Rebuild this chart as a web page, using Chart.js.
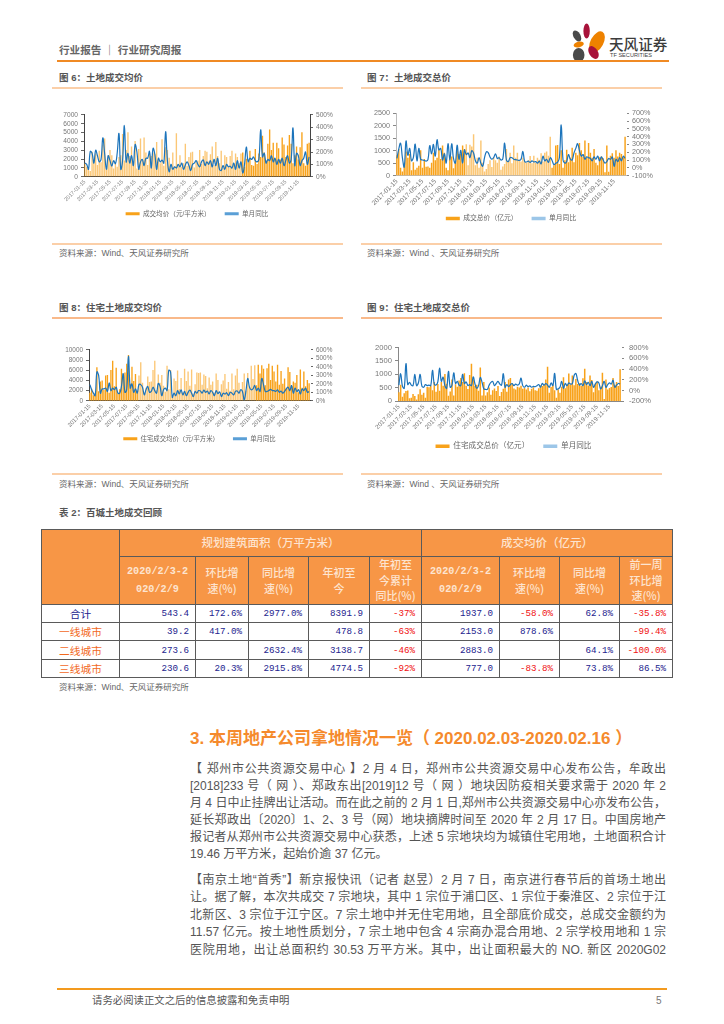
<!DOCTYPE html>
<html lang="zh">
<head>
<meta charset="utf-8">
<title>行业研究周报</title>
<script src="https://cdn.jsdelivr.net/npm/chart.js@4.2.1/dist/chart.umd.min.js"></script>
<style>
  html, body { margin: 0; padding: 0; background: #fff; }
  body { position: relative; width: 724px; height: 1024px; overflow: hidden; filter: blur(0.3px);
         font-family: 'Liberation Sans', 'Noto Sans CJK SC', sans-serif; color: #444; }
  .abs { position: absolute; white-space: nowrap; }
  .rule { position: absolute; height: 2px; }
  canvas { position: absolute; }
  .cap { position: absolute; font-size: 9.5px; font-weight: 700; color: #555; line-height: 12px; white-space: nowrap; }
  .src { position: absolute; font-size: 8.5px; color: #666; line-height: 12px; white-space: nowrap; }
  .ln { position: absolute; left: 190px; width: 476px; font-size: 12px; line-height: 16px; color: #555; }
  .just { text-align: justify; text-align-last: justify; }
  table { position: absolute; left: 41px; top: 529px; border-collapse: collapse; table-layout: fixed; width: 631px; }
  td { border: 1px solid #5a5a5a; padding: 0 6px 0 0; font-family: 'Liberation Mono', 'Noto Sans CJK SC', monospace; font-size: 9.2px; text-align: right; color: #23238e; overflow: hidden; white-space: nowrap; }
  td.h { background: #f79646; color: #fde4d0; text-align: center; padding: 0; font-family: 'Noto Sans CJK SC'; font-weight: 500; font-size: 11px; line-height: 15.5px; }
  td.hd { font-family: 'Liberation Mono'; font-weight: 700; font-size: 10.2px; line-height: 18px; }
  td.h2 { font-size: 11.5px; }
  td.name { text-align: center; padding: 0; font-family: 'Noto Sans CJK SC'; font-size: 10.7px; }
  td.red { color: #f01010; }
</style>
</head>
<body>

<div class="abs" style="left:59px;top:44px;font-size:10.6px;font-weight:700;color:#666;line-height:13px">行业报告 ｜ 行业研究周报</div>
<svg class="abs" style="left:565px;top:20px" width="45" height="45" viewBox="565 20 45 45">
  <ellipse cx="586.6" cy="31" rx="3.2" ry="7.5" fill="#a8123a"/>
  <ellipse cx="577" cy="36" rx="3.5" ry="6" fill="#4a4a4a" transform="rotate(-30 577 36)"/>
  <ellipse cx="597" cy="42" rx="6.5" ry="11.5" fill="#ee8200" transform="rotate(28 597 42)"/>
  <ellipse cx="578.7" cy="44.5" rx="5.2" ry="2.8" fill="#ee8200" transform="rotate(-15 578.7 44.5)"/>
  <ellipse cx="578.7" cy="55" rx="5.8" ry="7" fill="#4a4a4a"/>
  <ellipse cx="593.5" cy="52.5" rx="4.4" ry="7" fill="#a8123a" transform="rotate(-32 593.5 52.5)"/>
</svg>
<div class="abs" style="left:609px;top:35px;font-size:14.6px;font-weight:500;color:#3c3c3c;line-height:18px;font-family:'Noto Sans CJK SC'">天风证券</div>
<div class="abs" style="left:610px;top:52px;font-size:5.6px;color:#444;line-height:7px">TF SECURITIES</div>
<div class="rule" style="left:57px;top:60px;width:612px;background:#f08a24"></div>

<div class="cap" style="left:59px;top:72px">图 6：土地成交均价</div>
<div class="rule" style="left:52px;top:87px;width:291px;background:#fbcfa8"></div>
<div class="rule" style="left:52px;top:243px;width:291px;background:#fbcfa8"></div>
<div class="src" style="left:59px;top:247px">资料来源：Wind、天风证券研究所</div>

<div class="cap" style="left:367px;top:72px">图 7：土地成交总价</div>
<div class="rule" style="left:361px;top:87px;width:301px;background:#fbcfa8"></div>
<div class="rule" style="left:361px;top:243px;width:301px;background:#fbcfa8"></div>
<div class="src" style="left:367px;top:247px">资料来源：Wind 、天风证券研究所</div>

<div class="cap" style="left:59px;top:302px">图 8：住宅土地成交均价</div>
<div class="rule" style="left:52px;top:317px;width:291px;background:#f9b98a"></div>
<div class="rule" style="left:52px;top:473px;width:291px;background:#fbcfa8"></div>
<div class="src" style="left:59px;top:478px">资料来源：Wind、天风证券研究所</div>

<div class="cap" style="left:367px;top:302px">图 9：住宅土地成交总价</div>
<div class="rule" style="left:361px;top:317px;width:301px;background:#f9b98a"></div>
<div class="rule" style="left:361px;top:473px;width:301px;background:#fbcfa8"></div>
<div class="src" style="left:367px;top:478px">资料来源：Wind 、天风证券研究所</div>

<canvas id="c6"></canvas>
<canvas id="c7"></canvas>
<canvas id="c8"></canvas>
<canvas id="c9"></canvas>

<div class="cap" style="left:59px;top:507px">表 2：百城土地成交回顾</div>
<table id="tbl"></table>
<div class="src" style="left:59px;top:681px">资料来源：Wind、天风证券研究所</div>

<div class="abs" style="left:190px;top:729px;font-size:17px;font-weight:700;color:#f58a2c;line-height:20px">3. 本周地产公司拿地情况一览（ 2020.02.03-2020.02.16 ）</div>

<div class="ln just" style="top:761px">【 郑州市公共资源交易中心 】2 月 4 日，郑州市公共资源交易中心发布公告，牟政出</div>
<div class="ln just" style="top:778px">[2018]233 号（ 网 ）、郑政东出[2019]12 号（ 网 ）地块因防疫相关要求需于 2020 年 2</div>
<div class="ln just" style="top:795px">月 4 日中止挂牌出让活动。而在此之前的 2 月 1 日,郑州市公共资源交易中心亦发布公告，</div>
<div class="ln just" style="top:812px">延长郑政出〔2020〕1、2、3 号（网）地块摘牌时间至 2020 年 2 月 17 日。中国房地产</div>
<div class="ln just" style="top:829px">报记者从郑州市公共资源交易中心获悉，上述 5 宗地块均为城镇住宅用地，土地面积合计</div>
<div class="ln" style="top:846px">19.46 万平方米，起始价逾 37 亿元。</div>
<div class="ln just" style="top:872px">【南京土地“首秀”】新京报快讯（记者 赵昱）2 月 7 日，南京进行春节后的首场土地出</div>
<div class="ln just" style="top:889px">让。据了解，本次共成交 7 宗地块，其中 1 宗位于浦口区、1 宗位于秦淮区、2 宗位于江</div>
<div class="ln just" style="top:907px">北新区、3 宗位于江宁区。7 宗土地中并无住宅用地，且全部底价成交，总成交金额约为</div>
<div class="ln just" style="top:924px">11.57 亿元。按土地性质划分，7 宗土地中包含 4 宗商办混合用地、2 宗学校用地和 1 宗</div>
<div class="ln just" style="top:942px">医院用地，出让总面积约 30.53 万平方米。其中，出让面积最大的 NO. 新区 2020G02</div>

<div class="rule" style="left:57px;top:988px;width:610px;background:#f39a1e"></div>
<div class="abs" style="left:92px;top:994px;font-size:10.4px;color:#555;line-height:13px">请务必阅读正文之后的信息披露和免责申明</div>
<div class="abs" style="left:656px;top:994px;font-size:10px;color:#777;line-height:13px">5</div>

<script>
// x axis labels, one every two months
const tickLabels = ['2017-01-15','2017-03-15','2017-05-15','2017-07-15','2017-09-15','2017-11-15',
  '2018-01-15','2018-03-15','2018-05-15','2018-07-15','2018-09-15','2018-11-15',
  '2019-01-15','2019-03-15','2019-05-15','2019-07-15','2019-09-15','2019-11-15'];

// fig 6 land average price
const price6 = [
  1500,1100,900,600,2800,1900,2600, 1300,2900,1600,3600,4300,900,2400,
  3000,2400,900,1500,1100,2200,2400, 4800,1800,3000,5000,2300,3400,1500,
  4000,900,3100,4300,1800,4400,2700, 1300,2600,2300,2700,2500,3900,1900,
  1500,4200,1200,3300,3000,2100,1000, 2700,1100,4900,1400,2400,1100,1500,
  3700,1200,2200,2700,2800,1000,1600, 1800,3000,1400,2300,2900,2800,1700,
  2500,3400,1300,3900,2300,1500,2900, 1000,2400,2200,1100,2300,2900,1300,
  2600,2200,1500,2600,2700,1100,2000, 1600,2900,1300,1200,3100,1400,2600,
  2200,4600,2700,1800,3700,5300,3000, 3800,2000,3800,3200,1900,4400,3600,
  2200,3500,4700,3700,1500,2400,3400, 1900,3300,5000,1500,1200,3700,3800];
const yoy6 = [
  110,100,60,205,190,110,215, 170,120,140,315,190,60,170,
  130,85,130,105,190,350,60, 130,415,120,190,110,170,90,
  260,200,60,120,140,90,150, 150,205,70,230,180,60,150,
  120,135,110,365,130,40,100, 60,80,70,100,80,110,60,
  95,120,90,50,100,110,130, 100,80,120,135,90,120,100,
  130,80,140,90,150,60,50, 90,60,100,80,85,70,110,
  60,130,70,120,30,100,240, 120,150,140,160,130,120,140,
  380,160,190,110,140,130,170, 120,150,100,140,110,150,90,
  130,170,110,140,395,90,190, 170,90,130,150,200,100,160];

// fig 7 land total price
const total7 = [
  800,1050,300,150,500,950,700, 850,200,520,220,300,380,1000,
  300,650,340,350,300,500,900, 600,700,1050,650,1200,900,300,
  200,800,750,280,500,1000,850, 850,1200,1050,1250,400,1230,1150,
  1650,400,700,300,1400,500,150, 250,450,600,330,700,600,500,
  750,220,350,450,1050,550,900, 480,1200,700,900,600,550,700,
  550,500,600,770,480,780,500, 700,620,880,550,900,950,780,
  1550,300,400,1200,1220,450,1000, 300,600,1020,520,700,1100,520,
  900,800,1300,1000,750,1400,700, 1300,900,700,1050,500,400,720,
  750,680,120,1200,140,780,880, 700,1000,750,900,850,720,1550];
const yoy7 = [
  120,240,317,130,10,345,160, 250,90,130,305,90,250,110,
  100,95,85,105,285,180,300, 150,360,230,250,100,180,60,
  310,100,310,120,60,290,110, 225,60,230,170,190,130,220,
  190,90,60,130,60,20,130, 205,195,140,110,130,180,120,
  130,100,115,317,100,80,130, 130,110,105,100,95,110,210,
  80,75,85,70,90,75,80, 60,85,50,150,90,110,70,
  130,95,40,60,70,130,550, 100,60,80,170,110,100,190,
  250,310,220,150,170,110,140, 130,120,90,140,110,150,90,
  140,100,60,80,120,110,140, 20,110,80,130,90,150,120];

// fig 8 residential land average price
const price8 = [
  1500,2300,1000,1400,6500,1800,3700, 3900,2100,4900,5000,1500,6000,7800,
  2800,6400,1400,2200,6200,4800,5500, 7200,8900,3300,6600,3800,5200,1900,
  4900,7500,3500,1500,2500,4700,3600, 3700,6000,7800,2000,5100,3500,5000,
  2900,1700,6800,2200,6000,1000,4300, 3800,5900,2200,4400,1500,6200,3800,
  5700,2900,6100,1300,3200,5500,5400, 5500,3100,5100,4800,2400,4500,3100,
  3700,1500,5300,4000,1200,3200,3900, 5200,2300,3600,1900,5300,2200,4900,
  6200,3500,1800,3600,5300,1900,5400, 2500,6800,4200,6900,3000,7000,5300,
  6900,6200,3000,6300,7200,4000,6800, 5700,3700,7000,3100,5800,3300,4300,
  2500,6500,5600,2800,3700,3500,5000, 1600,6100,2500,5700,2800,4000,3400];
const yoy8 = [
  190,130,90,60,340,300,90, 140,140,150,110,210,120,150,
  130,160,90,90,170,320,100, 130,523,150,200,100,140,90,
  195,190,160,70,130,170,100, 110,160,120,90,205,170,60,
  130,150,120,360,340,40,90, 60,120,80,130,70,110,60,
  100,125,90,50,110,90,120, 115,90,125,100,115,80,120,
  100,60,120,85,105,50,90, 80,95,60,100,90,70,110,
  115,90,130,110,10,120,263, 160,130,140,180,120,150,110,
  263,190,110,110,120,135,120, 120,110,130,100,115,90,110,
  140,160,120,180,90,150,110, 130,80,140,120,150,100,110];

// fig 9 residential land total price
const total9 = [
  320,600,150,280,370,390,100, 120,260,180,50,250,430,230,
  300,120,520,510,560,400,700, 340,630,380,700,560,1000,640,
  190,350,800,200,620,530,760, 850,700,1030,560,440,960,1380,
  800,550,600,380,1240,200,700, 200,320,500,230,400,460,370,
  550,180,330,450,700,340,800, 850,650,460,420,530,500,560,
  450,480,420,500,360,450,510, 400,380,470,580,550,620,800,
  1270,300,520,600,400,120,430, 300,530,880,470,620,1020,610,
  950,580,820,630,660,560,840, 1200,700,570,950,780,320,650,
  720,400,530,1050,70,800,420, 480,520,850,600,700,550,1180];
const yoy9 = [
  100,312,80,40,501,110,150, 100,90,300,90,140,300,80,
  60,110,90,100,90,375,120, 100,160,415,170,250,90,40,
  358,60,100,330,130,170,100, 90,300,130,160,90,110,90,
  254,120,40,90,242,150,30, 20,20,100,150,170,90,130,
  170,120,100,312,60,110,70, 110,130,90,120,100,120,230,
  90,60,100,70,85,60,75, 70,90,110,60,130,100,130,
  100,60,140,90,317,20,30, 60,168,40,130,90,140,120,
  130,280,317,190,100,130,90, 180,110,150,90,170,60,120,
  160,140,30,90,170,60,110, 140,120,190,60,100,130,120];

// table 2
const cityNames = ['合计','一线城市','二线城市','三线城市'];
const areaWeek = ['543.4','39.2','273.6','230.6'];
const areaWow = ['172.6%','417.0%','','20.3%'];
const areaYoy = ['2977.0%','','2632.4%','2915.8%'];
const areaYtd = ['8391.9','478.8','3138.7','4774.5'];
const areaYtdYoy = ['-37%','-63%','-46%','-92%'];
const priceWeek = ['1937.0','2153.0','2883.0','777.0'];
const priceWow = ['-58.0%','878.6%','','-83.8%'];
const priceYoy = ['62.8%','','64.1%','73.8%'];
const priceLastWeek = ['-35.8%','-99.4%','-100.0%','86.5%'];

// each label takes a slot of 7 weeks on the category axis
const categories = [];
tickLabels.forEach(t => { categories.push(t); for (let i = 0; i < 6; i++) categories.push(''); });

const FONT = "'Liberation Sans','Noto Sans CJK SC',sans-serif";

function drawChart(id, o) {
  const pad = 6, legendPad = 14, side = 30;
  const canvas = document.getElementById(id);
  const top = o.top - pad;
  const W = o.right - o.left + o.wL + o.wR + 2 * side;
  const H = o.legendY + o.legendSize / 2 + 10 - top;
  canvas.width = W;
  canvas.height = H;
  canvas.style.left = (o.left - o.wL - side) + 'px';
  canvas.style.top = top + 'px';
  const xh = (o.legendY - legendPad - o.legendSize / 2) - o.bottom;
  const tickFont = { family: FONT, size: o.tickSize };
  new Chart(canvas.getContext('2d'), {
    data: {
      labels: categories,
      datasets: [
        { type: 'bar', label: o.barName, data: o.bars, yAxisID: 'y', order: 1, barThickness: o.barWidth,
          // the thin bars wash out over part of the range in the original
          backgroundColor: c => (c.dataIndex >= o.fadeFrom && c.dataIndex < o.fadeTo) ? 'rgba(248,162,26,0.6)' : '#f8a21a' },
        { type: 'line', label: o.lineName, data: o.line, yAxisID: 'y1', order: 0,
          borderColor: '#1c74bb', backgroundColor: o.legendLine, borderWidth: 1.2, pointRadius: 0, tension: 0.4 }
      ]
    },
    options: {
      responsive: false,
      devicePixelRatio: 1,
      animation: false,
      layout: { padding: { top: pad, left: side, right: side, bottom: 0 } },
      plugins: {
        tooltip: { enabled: false },
        legend: {
          position: 'bottom',
          labels: { font: { family: FONT, size: o.legendSize }, color: '#666', boxWidth: 14, boxHeight: o.legendBox, padding: legendPad,
            sort: (a, b) => a.datasetIndex - b.datasetIndex,
            generateLabels: chart => Chart.defaults.plugins.legend.labels.generateLabels(chart).map(item =>
              ({ ...item, lineWidth: 0, fillStyle: item.datasetIndex === 0 ? '#f8a21a' : o.legendLine })) }
        }
      },
      scales: {
        x: {
          // rotated labels run past the short axis box, so no clipping to it
          afterFit: s => { s.height = xh; s._computeLabelArea = () => null; },
          grid: { display: false, drawTicks: false },
          border: { color: o.axisColor },
          ticks: { autoSkip: false, maxRotation: 45, minRotation: 45, padding: 2, font: { family: FONT, size: o.xSize }, color: '#777' }
        },
        y: {
          position: 'left',
          min: 0, max: o.yMax,
          afterFit: s => { s.width = o.wL; },
          grid: { drawOnChartArea: false, tickLength: 3, color: o.tickColor },
          border: { color: o.axisColor },
          ticks: { stepSize: o.yStep, autoSkip: false, padding: 3, font: tickFont, color: '#777', callback: v => String(v) }
        },
        y1: {
          position: 'right',
          min: o.rMin, max: o.rMax,
          afterFit: s => { s.width = o.wR; },
          grid: { drawOnChartArea: false, tickLength: 3, color: o.tickColor },
          border: { color: o.rightAxisColor },
          ticks: { stepSize: o.rStep, autoSkip: false, padding: o.rPad, font: tickFont, color: '#777', callback: v => v + '%' }
        }
      }
    }
  });
}

drawChart('c6', { left: 84, right: 310, top: 114, bottom: 177, legendY: 214, wL: 30, wR: 30, barWidth: 0.7, fadeFrom: 0, fadeTo: 88,
  bars: price6, line: yoy6, barName: '成交均价（元/平方米）', lineName: '单月同比',
  yMax: 7000, yStep: 1000, rMin: 0, rMax: 500, rStep: 100, rPad: 3,
  tickSize: 6.6, xSize: 5.4, legendSize: 6.6, legendBox: 3, axisColor: '#444', rightAxisColor: '#444', tickColor: '#666', legendLine: '#5a9fd6' });

drawChart('c7', { left: 396, right: 626, top: 112, bottom: 176, legendY: 219, wL: 34, wR: 34, barWidth: 0.8, fadeFrom: 38, fadeTo: 85,
  bars: total7, line: yoy7, barName: '成交总价（亿元）', lineName: '单月同比',
  yMax: 2500, yStep: 500, rMin: -100, rMax: 700, rStep: 100, rPad: 3,
  tickSize: 7.2, xSize: 6.6, legendSize: 6.8, legendBox: 3.5, axisColor: '#bbb', rightAxisColor: 'rgba(0,0,0,0)', tickColor: '#888', legendLine: '#9cc6e8' });

drawChart('c8', { left: 89, right: 310, top: 349, bottom: 401, legendY: 439, wL: 30, wR: 30, barWidth: 0.7, fadeFrom: 28, fadeTo: 95,
  bars: price8, line: yoy8, barName: '住宅成交均价（元/平方米）', lineName: '单月同比',
  yMax: 10000, yStep: 2000, rMin: 0, rMax: 600, rStep: 100, rPad: 3,
  tickSize: 6.4, xSize: 5.8, legendSize: 6.4, legendBox: 3, axisColor: '#444', rightAxisColor: 'rgba(0,0,0,0)', tickColor: '#666', legendLine: '#5a9fd6' });

drawChart('c9', { left: 398, right: 621, top: 344, bottom: 402, legendY: 447, wL: 36, wR: 44, barWidth: 0.85, fadeFrom: 0, fadeTo: 0,
  bars: total9, line: yoy9, barName: '住宅成交总价（亿元）', lineName: '单月同比',
  yMax: 2000, yStep: 500, rMin: -200, rMax: 800, rStep: 200, rPad: 5,
  tickSize: 7.6, xSize: 6.2, legendSize: 7.6, legendBox: 3.5, axisColor: '#888', rightAxisColor: 'rgba(0,0,0,0)', tickColor: '#888', legendLine: '#9cc6e8' });

// table built from the arrays above
const colWidths = [78, 76, 53, 60, 61, 52, 78, 60, 60, 53];
const rowHeights = [18, 18, 19, 18];
const headerTexts = ['2020/2/3-2<br>020/2/9','环比增<br>速(%)','同比增<br>速(%)','年初至<br>今','年初至<br>今累计<br>同比(%)',
  '2020/2/3-2<br>020/2/9','环比增<br>速(%)','同比增<br>速(%)','前一周<br>环比增<br>速(%)'];
const tableCols = [areaWeek, areaWow, areaYoy, areaYtd, areaYtdYoy, priceWeek, priceWow, priceYoy, priceLastWeek];

let html = '<colgroup>' + colWidths.map(w => '<col style="width:' + w + 'px">').join('') + '</colgroup>';
html += '<tr style="height:27px"><td class="h" rowspan="2"></td><td class="h h2" colspan="5">规划建筑面积（万平方米）</td><td class="h h2" colspan="4">成交均价（亿元）</td></tr>';
html += '<tr style="height:48px">' + headerTexts.map(t => '<td class="h' + (t.charAt(0) === '2' ? ' hd' : '') + '">' + t + '</td>').join('') + '</tr>';
cityNames.forEach((name, r) => {
  html += '<tr style="height:' + rowHeights[r] + 'px"><td class="name" style="color:' + (r === 0 ? '#23238e' : '#f2691e') + '">' + name + '</td>';
  tableCols.forEach(col => {
    html += '<td' + (col[r].charAt(0) === '-' ? ' class="red"' : '') + '>' + col[r] + '</td>';
  });
  html += '</tr>';
});
document.getElementById('tbl').innerHTML = html;
</script>
</body>
</html>
